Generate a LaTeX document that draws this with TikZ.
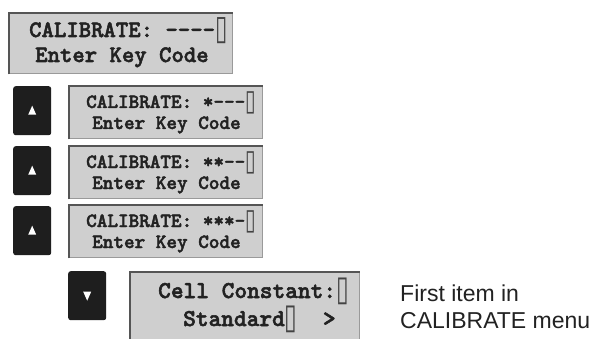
\documentclass[tikz,border=0pt]{standalone}
\usepackage{fontspec}
\setmainfont{Liberation Sans}
\newfontfamily\lcdfont{lmmonolt10-bold}[Extension=.otf, FakeBold=2.2]
\newfontfamily\curfont{DejaVu Sans}
\newcommand\cur{\makebox[0.525em]{\raisebox{-0.1em}{\curfont\color{textcol!85}\scalebox{0.95}[1.45]{▯}}}}
\usetikzlibrary{calc}
\definecolor{lcdfill}{HTML}{CFCFCF}
\definecolor{lcddark}{HTML}{555555}
\definecolor{lcdlight}{HTML}{9A9A9A}
\definecolor{keyblack}{HTML}{1E1E1E}
\definecolor{textcol}{HTML}{222222}
\tikzset{
  lcd/.style={draw=lcdlight, line width=1.4pt, fill=lcdfill, inner sep=0pt, anchor=north west},
  key/.style={fill=keyblack, rounded corners=2.5pt, inner sep=0pt, minimum width=38pt, minimum height=49pt, anchor=north west},
  txt/.style={inner sep=0pt, anchor=base west, text=textcol},
  bigmono/.style={font=\lcdfont\fontsize{23.6}{25}\selectfont},
  smallmono/.style={font=\lcdfont\fontsize{20.2}{21}\selectfont},
  cellmono/.style={font=\lcdfont\fontsize{24.2}{28}\selectfont},
  labeltxt/.style={inner sep=0pt, anchor=base west, text=textcol, font=\fontsize{23}{27}\selectfont},
  bevel/.style={draw=lcddark, line width=1.8pt},
  uptri/.style={fill=white},
}
\newcommand\lcdbevel[1]{\draw[bevel] (#1.south west) -- (#1.north west) -- (#1.north east);}
\newcommand\uparrowtri[1]{\fill[uptri] ($(#1.center)+(0,-5)$) -- ($(#1.center)+(-4,4)$) -- ($(#1.center)+(4,4)$) -- cycle;}
\newcommand\downarrowtri[1]{\fill[uptri] ($(#1.center)+(0,5)$) -- ($(#1.center)+(-4,-4)$) -- ($(#1.center)+(4,-4)$) -- cycle;}
\begin{document}
\begin{tikzpicture}[x=1pt,y=-1pt]
\useasboundingbox (0,0) rectangle (601,339);
\clip (0,0) rectangle (601,339);
\fill[white] (0,0) rectangle (601,339);

% box 1
\node[lcd, minimum width=223pt, minimum height=60pt] (b1) at (9,13) {};
\lcdbevel{b1}
\node[txt, bigmono] (t1a) at (29,37) {CALIBRATE: ----\cur};
\node[txt, bigmono] (t1b) at (35,62) {Enter Key Code};

% row 2
\node[key] (k1) at (13,86) {};
\node[lcd, minimum width=193pt, minimum height=52pt] (b2) at (69,86) {};
\lcdbevel{b2}
\node[txt, smallmono] (t2a) at (86,108) {CALIBRATE: *---\cur};
\node[txt, smallmono] (t2b) at (92,129) {Enter Key Code};

% row 3
\node[key] (k2) at (13,146) {};
\node[lcd, minimum width=193pt, minimum height=52pt] (b3) at (69,146) {};
\lcdbevel{b3}
\node[txt, smallmono] (t3a) at (86,168) {CALIBRATE: **--\cur};
\node[txt, smallmono] (t3b) at (92,189) {Enter Key Code};

% row 4
\node[key] (k3) at (13,206) {};
\node[lcd, minimum width=193pt, minimum height=52pt] (b4) at (69,205) {};
\lcdbevel{b4}
\node[txt, smallmono] (t4a) at (86,227) {CALIBRATE: ***-\cur};
\node[txt, smallmono] (t4b) at (92,248) {Enter Key Code};

% row 5
\node[key] (k4) at (68,271) {};
\node[lcd, minimum width=229pt, minimum height=76pt] (b5) at (130,272) {};
\lcdbevel{b5}
\node[txt, cellmono] (t5a) at (158,298) {Cell Constant:\cur};
\node[txt, cellmono] (t5b) at (183,326) {Standard\cur\ \ >};

% key arrows
\uparrowtri{k1}
\uparrowtri{k2}
\uparrowtri{k3}
\downarrowtri{k4}

% label
\node[labeltxt] (l1) at (400,301) {First item in};
\node[labeltxt] (l2) at (400,328) {CALIBRATE menu};
\end{tikzpicture}
\end{document}
